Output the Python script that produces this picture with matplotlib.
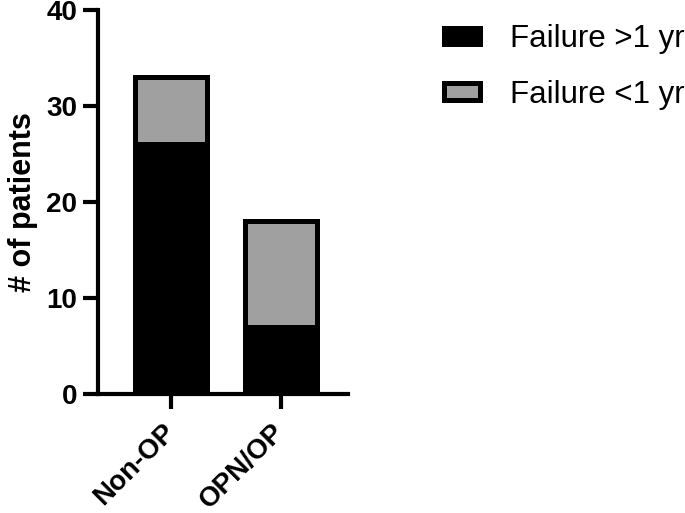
import matplotlib.pyplot as plt
import matplotlib as mpl
import numpy as np

mpl.rcParams['font.family'] = ['Liberation Sans', 'DejaVu Sans']

# Données
groups = ['Non-OP', 'OPN/OP']
fail_over_1yr = [26, 7]
fail_under_1yr = [7, 11]
yticks = [0, 10, 20, 30, 40]

fig = plt.figure(figsize=(6.85, 5.13), dpi=100)
ax = fig.add_axes([0.143, 0.232, 0.365, 0.749])

x = np.arange(len(groups))
lw = 3.6
ax.bar(x, fail_over_1yr, width=0.65, color='black', edgecolor='black',
       linewidth=lw, label='Failure >1 yr')
ax.bar(x, fail_under_1yr, width=0.65, bottom=fail_over_1yr, color='#a0a0a0',
       edgecolor='black', linewidth=lw, label='Failure <1 yr')

ax.set_xlim(-0.664, 1.61)
ax.set_ylim(0, 40)
ax.set_yticks(yticks)
ax.set_xticks(x)
ax.set_xticklabels(groups, rotation=45, ha='right', va='center',
                   rotation_mode='anchor', fontsize=20, fontweight='bold')
for lab in ax.get_yticklabels():
    lab.set_fontsize(20)
    lab.set_fontweight('bold')

for s in ['top', 'right']:
    ax.spines[s].set_visible(False)
for s in ['left', 'bottom']:
    ax.spines[s].set_linewidth(3)
ax.tick_params(axis='y', width=3, length=11, pad=4)
ax.tick_params(axis='x', width=3, length=11, pad=13.5)
ax.set_ylabel('# of patients', fontsize=22, fontweight='bold', labelpad=6)

ax.legend(loc='upper left', bbox_to_anchor=(1.272, 1.036), frameon=False,
          fontsize=22.5, handlelength=1.15, handleheight=0.45, labelspacing=0.82,
          handletextpad=0.95)

fig.savefig('out.png', dpi=100)
